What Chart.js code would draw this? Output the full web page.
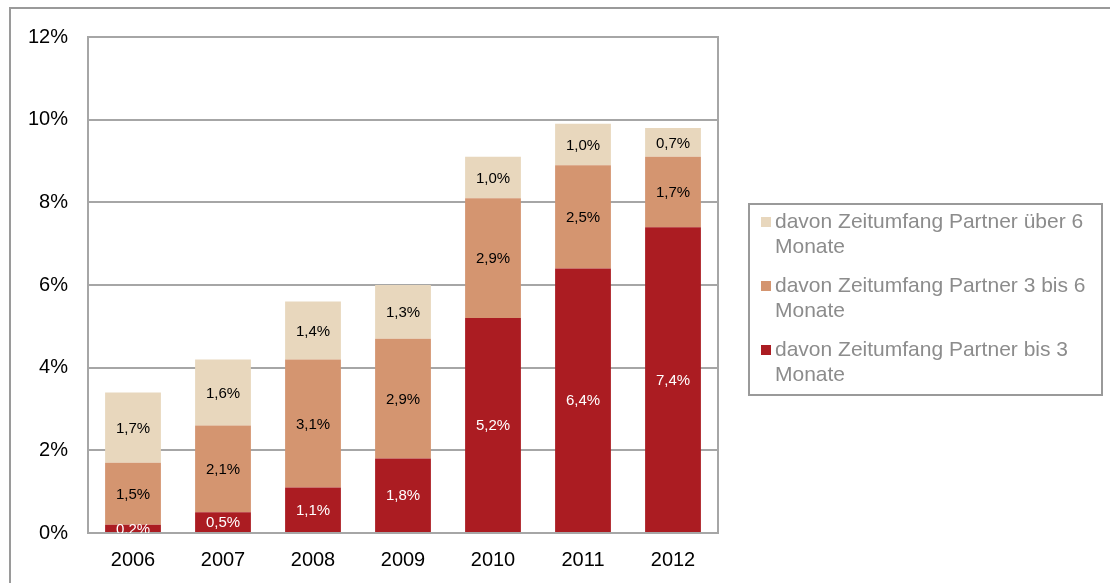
<!DOCTYPE html>
<html>
<head>
<meta charset="utf-8">
<script src="https://cdn.jsdelivr.net/npm/chart.js@4"></script>
<style>
  html, body { margin: 0; padding: 0; background: #fff; }
  #wrap { position: relative; width: 1110px; height: 583px; }
</style>
</head>
<body>
<div id="wrap"><canvas id="myChart"></canvas></div>
<script>
document.addEventListener("DOMContentLoaded", function () {

    const years = ["2006", "2007", "2008", "2009", "2010", "2011", "2012"];
    const bis3 = [0.2, 0.5, 1.1, 1.8, 5.2, 6.4, 7.4];
    const drei6 = [1.5, 2.1, 3.1, 2.9, 2.9, 2.5, 1.7];
    const ueber6 = [1.7, 1.6, 1.4, 1.3, 1.0, 1.0, 0.7];
    const yTicks = [0, 2, 4, 6, 8, 10, 12];

    const seriesNames = [
        "davon Zeitumfang Partner bis 3 Monate",
        "davon Zeitumfang Partner 3 bis 6 Monate",
        "davon Zeitumfang Partner über 6 Monate"
    ];
    const colors = ['#AB1C22', '#D49570', '#E8D7BD'];
    const labelColors = ['#ffffff', '#000000', '#000000'];

    const FONT = "Arial, 'Liberation Sans', sans-serif";
    const gridGray = '#a6a6a6';

    // frame around whole chart (only left + top edge are visible in the picture)
    const framePlugin = {
        id: 'frame',
        beforeDraw(chart) {
            const ctx = chart.ctx;
            ctx.save();
            ctx.fillStyle = '#9a9a9a';
            ctx.fillRect(9, 7, chart.width - 9, 2);
            ctx.fillRect(9, 7, 2, chart.height - 7);
            ctx.restore();
        },
        afterDatasetsDraw(chart) {
            // box round plot area
            const a = chart.chartArea;
            const ctx = chart.ctx;
            ctx.save();
            ctx.strokeStyle = gridGray;
            ctx.lineWidth = 2;
            ctx.strokeRect(a.left, a.top, a.right - a.left, a.bottom - a.top);
            ctx.restore();
        }
    };

    // value labels inside segments
    const valueLabels = {
        id: 'valueLabels',
        afterDatasetsDraw(chart) {
            const ctx = chart.ctx;
            const a = chart.chartArea;
            ctx.save();
            ctx.beginPath();
            ctx.rect(a.left, a.top, a.right - a.left, a.bottom - a.top);
            ctx.clip();
            ctx.font = '15px ' + FONT;
            ctx.textAlign = 'center';
            ctx.textBaseline = 'middle';
            chart.data.datasets.forEach(function (ds, i) {
                const meta = chart.getDatasetMeta(i);
                meta.data.forEach(function (bar, j) {
                    const v = ds.data[j];
                    const txt = v.toFixed(1).replace('.', ',') + '%';
                    ctx.fillStyle = labelColors[i];
                    ctx.fillText(txt, bar.x, (bar.y + bar.base) / 2 + 1);
                });
            });
            ctx.restore();
        }
    };

    // legend box at right, top entry = top of the stack
    const boxLegend = {
        id: 'boxLegend',
        afterDraw(chart) {
            const ctx = chart.ctx;
            const x0 = 749, y0 = 204, w = 353, h = 191;
            ctx.save();
            ctx.strokeStyle = '#9a9a9a';
            ctx.lineWidth = 2;
            ctx.strokeRect(x0, y0, w, h);
            ctx.font = '21px ' + FONT;
            ctx.textBaseline = 'middle';
            ctx.textAlign = 'left';
            const order = [2, 1, 0];
            order.forEach(function (i, k) {
                const ly = 222 + k * 64;
                ctx.fillStyle = colors[i];
                ctx.fillRect(761, ly - 5, 10, 10);
                // simple word wrap
                const words = seriesNames[i].split(' ');
                let line = '', lines = [];
                words.forEach(function (wd) {
                    const test = line ? line + ' ' + wd : wd;
                    if (ctx.measureText(test).width > 322 && line) {
                        lines.push(line);
                        line = wd;
                    } else {
                        line = test;
                    }
                });
                lines.push(line);
                ctx.fillStyle = '#8c8c8c';
                lines.forEach(function (t, n) {
                    ctx.fillText(t, 775, ly + n * 25);
                });
            });
            ctx.restore();
        }
    };

    const data = {
        labels: years,
        datasets: [0, 1, 2].map(function (i) {
            return {
                label: seriesNames[i],
                data: [bis3, drei6, ueber6][i],
                backgroundColor: colors[i],
                borderWidth: 0,
                categoryPercentage: 1,
                barPercentage: 0.62
            };
        })
    };

    const config = {
        type: 'bar',
        data: data,
        options: {
            responsive: false,
            animation: false,
            layout: {
                padding: { left: 0, top: 37, right: 392, bottom: 0 }
            },
            plugins: {
                legend: { display: false },
                tooltip: { enabled: false }
            },
            scales: {
                x: {
                    stacked: true,
                    grid: { display: false },
                    border: { display: false },
                    ticks: {
                        color: '#000',
                        font: { size: 20, family: FONT },
                        padding: 7
                    },
                    afterFit(scale) { scale.height = 50; }
                },
                y: {
                    stacked: true,
                    min: 0,
                    max: 12,
                    afterBuildTicks(scale) {
                        scale.ticks = yTicks.map(function (v) { return { value: v }; });
                    },
                    grid: { color: gridGray, lineWidth: 2, drawTicks: false },
                    border: { display: false },
                    ticks: {
                        color: '#000',
                        font: { size: 20, family: FONT },
                        padding: 20,
                        callback: function (v) { return v + '%'; }
                    },
                    afterFit(scale) { scale.width = 88; }
                }
            }
        },
        plugins: [framePlugin, valueLabels, boxLegend]
    };

    const canvas = document.getElementById('myChart');
    canvas.width = 1110;
    canvas.height = 583;
    var myChart = new Chart(canvas, config);
});
</script>
</body>
</html>
